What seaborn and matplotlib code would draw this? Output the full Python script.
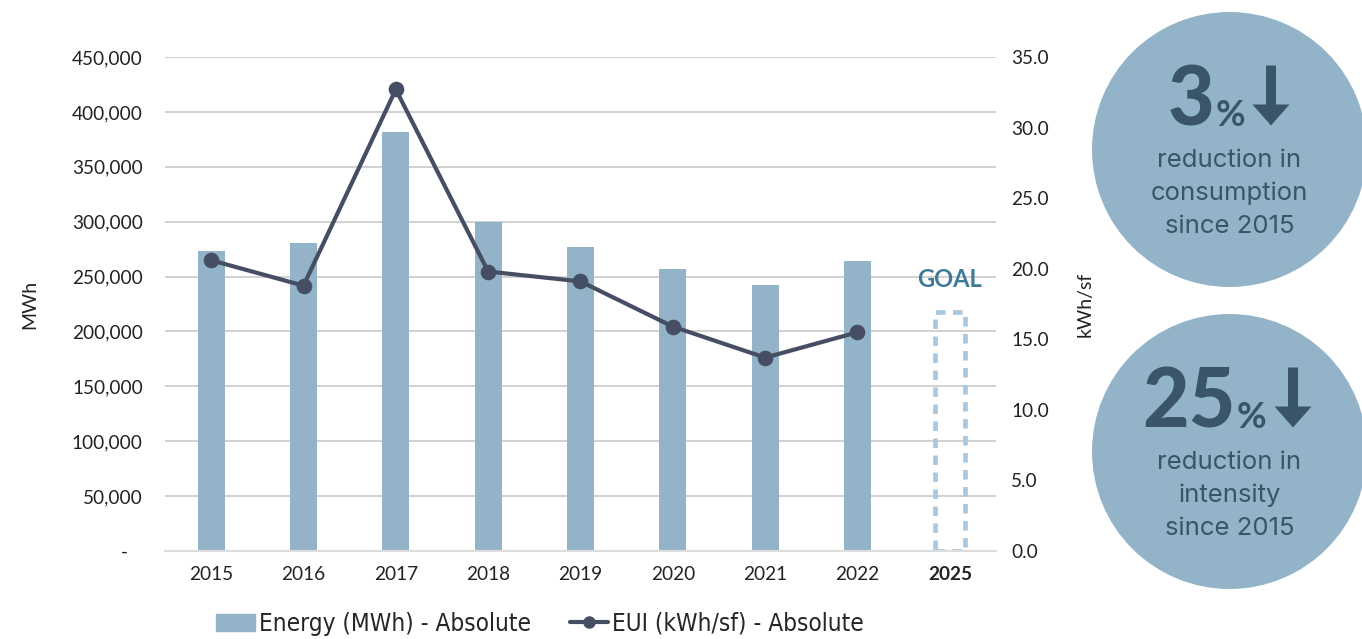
import numpy as np
import pandas as pd
import matplotlib
matplotlib.use("Agg")
import matplotlib.pyplot as plt
import matplotlib.patches as mpatches
from matplotlib.lines import Line2D
import seaborn as sns

# ---- data ----
years = ["2015", "2016", "2017", "2018", "2019", "2020", "2021", "2022"]
energy_mwh = [273000, 281000, 382000, 300000, 277000, 257000, 242000, 264000]
eui_kwh_sf = [20.6, 18.8, 32.7, 19.8, 19.1, 15.9, 13.7, 15.5]
goal_year = "2025"
goal_energy_mwh = 218000

energy_ticks = list(range(0, 450001, 50000))
eui_ticks = [0, 5, 10, 15, 20, 25, 30, 35]

consumption_cut = "3"
intensity_cut = "25"

# ---- style ----
BAR = "#93b4c8"
LINE = "#454e63"
GOAL = "#a9c8df"
GOAL_TXT = "#3f7a98"
CIRCLE = "#93b4c8"
CIRCLE_TXT = "#3a5469"
GRID = "#c9c9c9"
TXT = "#222222"

sns.set_theme(style="white")
plt.rcParams["font.family"] = ["Lato", "DejaVu Sans"]

W, H = 1362, 639
fig = plt.figure(figsize=(W / 100, H / 100), dpi=100)
ax = fig.add_axes([165 / W, 1 - 551 / H, (996 - 165) / W, (551 - 57) / H])

order = years + [goal_year]
df = pd.DataFrame({"year": years, "energy": energy_mwh, "eui": eui_kwh_sf})
goal_df = pd.DataFrame({"year": [goal_year], "energy": [goal_energy_mwh]})

sns.barplot(data=df, x="year", y="energy", order=order, color=BAR,
            saturation=1, width=0.29, ax=ax, linewidth=0)
sns.barplot(data=goal_df, x="year", y="energy", order=order, color=GOAL,
            saturation=1, fill=False, width=0.33, linewidth=3.4,
            linestyle=(0, (2.0, 1.6)), ax=ax)

ax2 = ax.twinx()
sns.pointplot(data=df, x="year", y="eui", order=order, color=LINE,
              markers="o", markersize=9, linewidth=3, errorbar=None, ax=ax2)

ax.set_xlim(-0.5, len(order) - 0.5)
ax.set_ylim(0, 450000)
ax2.set_ylim(0, 35)

ax.set_yticks(energy_ticks)
ax.set_yticklabels(["-   " if v == 0 else f"{v:,}" for v in energy_ticks])
ax2.set_yticks(eui_ticks)
ax2.set_yticklabels([f"{v:.1f}" for v in eui_ticks])

ax.set_xticks(range(len(order)))
ax.set_xticklabels(order)
for lab in ax.get_xticklabels():
    if lab.get_text() == goal_year:
        lab.set_fontweight("bold")
        lab.set_fontsize(14.5)

ax.tick_params(axis="y", length=0, pad=16, labelsize=13.7, labelcolor=TXT)
ax.tick_params(axis="x", length=0, pad=11, labelsize=13.7, labelcolor=TXT)
ax2.tick_params(axis="y", length=0, pad=11, labelsize=13.7, labelcolor=TXT)

ax.set_axisbelow(True)
ax.yaxis.grid(True, color=GRID, linewidth=1.2)
ax.xaxis.grid(False)
for a in (ax, ax2):
    for s in ("top", "right", "left"):
        a.spines[s].set_visible(False)
    a.spines["bottom"].set_color("#dddddd")
    a.spines["bottom"].set_linewidth(1.5)

ax.set_xlabel("")
ax.set_ylabel("MWh", fontsize=14, color=TXT, labelpad=24)
ax2.set_ylabel("kWh/sf", fontsize=14, color=TXT, labelpad=20)

ax.annotate("GOAL", xy=(order.index(goal_year), goal_energy_mwh),
            xytext=(0, 15), textcoords="offset points", ha="center", va="bottom",
            fontsize=17, fontweight="bold", color=GOAL_TXT)

# legend
handles = [mpatches.Patch(color=BAR),
           Line2D([], [], color=LINE, lw=3, marker="o", markersize=8)]
fig.legend(handles, ["Energy (MWh) - Absolute", "EUI (kWh/sf) - Absolute"],
           loc="center", bbox_to_anchor=(540 / W, 1 - 624 / H), ncol=2,
           frameon=False, handlelength=1.6, handletextpad=0.15,
           columnspacing=1.6,
           prop={"family": "DejaVu Sans", "stretch": "condensed", "size": 17.5})

# summary badges on the right
ov = fig.add_axes([0, 0, 1, 1], zorder=5)
ov.set_xlim(0, W)
ov.set_ylim(H, 0)
ov.axis("off")
ov.patch.set_alpha(0)


def badge(cy, big, x_big_right, x_pct, x_arrow, lines):
    ov.add_patch(mpatches.Circle((1229.5, cy), 137.5, color=CIRCLE, lw=0))
    base = cy - 24
    ov.text(x_big_right, base, big, ha="right", va="baseline",
            fontsize=58, fontweight="black", color=CIRCLE_TXT)
    ov.text(x_pct, base, "%", ha="left", va="baseline",
            fontsize=26, fontweight="bold", color=CIRCLE_TXT)
    ov.add_patch(mpatches.FancyArrow(x_arrow, base - 60, 0, 60, width=10,
                                     head_width=37, head_length=21,
                                     length_includes_head=True,
                                     color=CIRCLE_TXT, lw=0))
    for i, t in enumerate(lines):
        ov.text(1229.5, cy + 11 + 33 * i, t, ha="center", va="center",
                fontsize=18.5, color=CIRCLE_TXT,
                family=["Inter", "DejaVu Sans"])


badge(149.5, consumption_cut, 1214, 1216, 1271,
      ["reduction in", "consumption", "since 2015"])
badge(451.5, intensity_cut, 1236, 1237, 1293,
      ["reduction in", "intensity", "since 2015"])

fig.savefig("out.png", dpi=100, facecolor="white")
